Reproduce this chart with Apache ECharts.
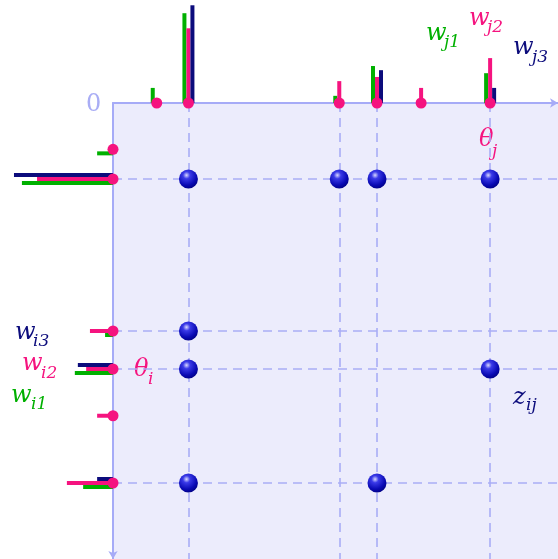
<!DOCTYPE html>
<html>
<head>
<meta charset="utf-8">
<script src="https://cdn.jsdelivr.net/npm/echarts@6/dist/echarts.min.js"></script>
<style>
  html, body { margin: 0; padding: 0; background: #fff; }
  #chartmain { width: 558px; height: 559px; }
</style>
</head>
<body>
<div id="chartmain"></div>
<script>
// 列方向 (j): 位置和三个权重
var colPos = [1.16, 2, 6, 7, 8.17, 10];
var colW1 = [0.40, 2.38, 0.19, 0.98, 0, 0.79];
var colW2 = [0, 1.98, 0.58, 0.69, 0.40, 1.19];
var colW3 = [0, 2.59, 0, 0.87, 0, 0.40];

// 行方向 (i)
var rowPos = [1.22, 2, 6, 7, 8.23, 10];
var rowW1 = [0.42, 2.41, 0.21, 1.01, 0, 0.79];
var rowW2 = [0, 2.01, 0.61, 0.71, 0.42, 1.22];
var rowW3 = [0, 2.62, 0, 0.93, 0, 0.42];

// 虚线位置 和 z_ij 点
var lineX = [2, 6, 7, 10];
var lineY = [2, 6, 7, 10];
var zPoints = [[2, 2], [6, 2], [7, 2], [10, 2], [2, 6], [2, 7], [10, 7], [2, 10], [7, 10]];

var green = '#00b000';
var pink = '#f5137f';
var navy = '#0c0c7c';
var axisColor = '#a6abf7';
var xMax = 11.8, yMax = 12.0;

function pairs(pos, w) {
    var out = [];
    for (var i = 0; i < pos.length; i++) out.push([pos[i], w[i]]);
    return out;
}

function topBars(data, color, offset) {
    return {
        type: 'custom', xAxisIndex: 1, yAxisIndex: 1, z: 3, clip: false,
        data: data,
        renderItem: function(params, api) {
            var p0 = api.coord([api.value(0), 0]);
            var p1 = api.coord([api.value(0), api.value(1)]);
            return { type: 'rect',
                shape: { x: p0[0] + offset - 2, y: p1[1], width: 4, height: p0[1] - p1[1] },
                style: { fill: color } };
        }
    };
}

function leftBars(data, color, offset) {
    return {
        type: 'custom', xAxisIndex: 2, yAxisIndex: 2, z: 3, clip: false,
        data: data.map(function(d) { return [d[1], d[0]]; }),
        renderItem: function(params, api) {
            var p0 = api.coord([0, api.value(1)]);
            var p1 = api.coord([api.value(0), api.value(1)]);
            return { type: 'rect',
                shape: { x: p1[0], y: p0[1] + offset - 2, width: p0[0] - p1[0], height: 4 },
                style: { fill: color } };
        }
    };
}

// 斜体字母 + 下标
function mathLabel(x, y, main, sub, dx, dy, color) {
    return {
        type: 'group', x: x, y: y, children: [
            { type: 'text', x: 0, y: 0, style: { text: main, fill: color, font: 'italic 24px "DejaVu Serif"', verticalAlign: 'middle' } },
            { type: 'text', x: dx, y: dy, style: { text: sub, fill: color, font: 'italic 17px "DejaVu Serif"', verticalAlign: 'middle' } }
        ]
    };
}

var option = {
    animation: false,
    grid: [
        { left: 113, top: 103, right: 0, bottom: 0, show: true, backgroundColor: '#ececfc', borderWidth: 0 },
        { left: 113, top: 0, right: 0, height: 103 },
        { left: 0, top: 103, width: 113, bottom: 0 }
    ],
    xAxis: [
        { gridIndex: 0, type: 'value', position: 'top', min: 0, max: xMax,
          axisLine: { show: true, onZero: false, lineStyle: { color: axisColor, width: 2 }, symbol: ['none', 'arrow'], symbolSize: [7, 8] },
          axisTick: { show: false }, axisLabel: { show: false }, splitLine: { show: false } },
        { gridIndex: 1, type: 'value', min: 0, max: xMax, show: false },
        { gridIndex: 2, type: 'value', min: 0, max: 2.99, inverse: true, show: false }
    ],
    yAxis: [
        { gridIndex: 0, type: 'value', inverse: true, min: 0, max: yMax,
          axisLine: { show: true, onZero: false, lineStyle: { color: axisColor, width: 2 }, symbol: ['arrow', 'none'], symbolSize: [7, 8] },
          axisTick: { show: false }, axisLabel: { show: false }, splitLine: { show: false } },
        { gridIndex: 1, type: 'value', min: 0, max: 2.73, show: false },
        { gridIndex: 2, type: 'value', min: 0, max: yMax, inverse: true, show: false }
    ],
    series: [
        // 虚线
        { type: 'scatter', xAxisIndex: 0, yAxisIndex: 0, data: [], z: 1,
          markLine: { silent: true, symbol: 'none', label: { show: false },
            lineStyle: { color: '#a9adf5', width: 1.6, type: [9, 6], opacity: 1 },
            data: lineX.map(function(v) { return { xAxis: v }; })
                .concat(lineY.map(function(v) { return { yAxis: v }; })) } },
        topBars(pairs(colPos, colW1), green, -4),
        topBars(pairs(colPos, colW2), pink, 0),
        topBars(pairs(colPos, colW3), navy, 4),
        leftBars(pairs(rowPos, rowW3), navy, -4),
        leftBars(pairs(rowPos, rowW2), pink, 0),
        leftBars(pairs(rowPos, rowW1), green, 4),
        // 轴上的粉色点
        { type: 'scatter', xAxisIndex: 0, yAxisIndex: 0, z: 10, clip: false, symbolSize: 11,
          itemStyle: { color: pink, opacity: 1 },
          data: colPos.map(function(v) { return [v, 0]; }).concat(rowPos.map(function(v) { return [0, v]; })) },
        // z_ij 球
        { type: 'scatter', xAxisIndex: 0, yAxisIndex: 0, z: 10, symbolSize: 19,
          itemStyle: { opacity: 1, color: new echarts.graphic.RadialGradient(0.4, 0.3, 0.75, [
              { offset: 0, color: '#d8d8ff' },
              { offset: 0.25, color: '#3a3ae8' },
              { offset: 0.7, color: '#0a0ab4' },
              { offset: 1, color: '#000080' }
          ]) },
          data: zPoints }
    ],
    graphic: [
        { type: 'text', x: 86, y: 105, style: { text: '0', fill: '#a9adf5', font: '24px "DejaVu Serif"', verticalAlign: 'middle' } },
        mathLabel(426, 34, 'w', 'j1', 18, 9, green),
        mathLabel(469, 19, 'w', 'j2', 18, 9, pink),
        mathLabel(513, 48, 'w', 'j3', 19, 10, navy),
        mathLabel(479, 140, 'θ', 'j', 13, 12, pink),
        mathLabel(15, 333, 'w', 'i3', 18, 9, navy),
        mathLabel(22, 364, 'w', 'i2', 19, 10, pink),
        mathLabel(11, 396, 'w', 'i1', 20, 9, green),
        mathLabel(134, 370, 'θ', 'i', 14, 10, pink),
        mathLabel(513, 398, 'z', 'ij', 13, 8, navy)
    ]
};

var myChart = echarts.init(document.getElementById('chartmain'));
myChart.setOption(option);
</script>
</body>
</html>
